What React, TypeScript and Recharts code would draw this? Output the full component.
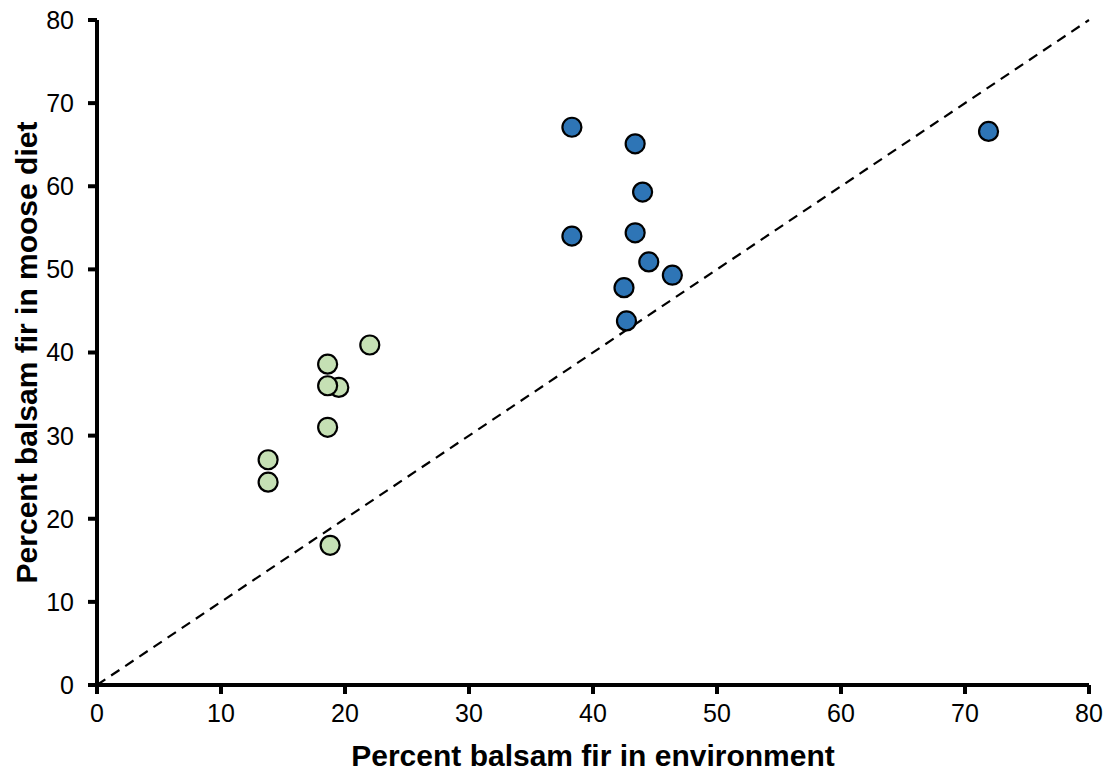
import React from "react";
import { ScatterChart, Scatter, XAxis, YAxis, ReferenceLine, Label } from "recharts";

// values: [environment %, diet %]
const blueEnv = [38.3, 43.4, 44.0, 38.3, 43.4, 44.5, 46.4, 42.5, 42.7, 71.9];
const blueDiet = [67.1, 65.1, 59.3, 54.0, 54.4, 50.9, 49.3, 47.8, 43.8, 66.6];
const greenEnv = [22.0, 18.6, 19.5, 18.6, 18.6, 13.8, 13.8, 18.8];
const greenDiet = [40.9, 38.6, 35.8, 36.0, 31.0, 27.1, 24.4, 16.8];
const ticks = [0, 10, 20, 30, 40, 50, 60, 70, 80];

const blueData = blueEnv.map((x, i) => ({ x, y: blueDiet[i] }));
const greenData = greenEnv.map((x, i) => ({ x, y: greenDiet[i] }));

const font = "Liberation Sans, Arial, sans-serif";
const axisStyle = { stroke: "#000", strokeWidth: 4 };

const dot = (fill: string) => (props: any) => (
  <circle cx={props.cx} cy={props.cy} r={9.5} fill={fill} stroke="#000" strokeWidth={2.2} />
);

export default function App() {
  return (
    <div style={{ position: "absolute", left: 0, top: 0, background: "#fff" }}>
      <ScatterChart width={1109} height={772} margin={{ top: 20, right: 20, bottom: 0, left: 0 }}>
        <XAxis
          type="number"
          dataKey="x"
          domain={[0, 80]}
          ticks={ticks}
          height={87}
          stroke="#000"
          strokeWidth={4}
          axisLine={axisStyle}
          tickLine={axisStyle}
          tickSize={9}
          tickMargin={10}
          tick={{ fill: "#000", fontSize: 25, fontFamily: font, strokeWidth: 0 }}
        >
          <Label
            value="Percent balsam fir in environment"
            position="insideBottom"
            offset={6}
            style={{ fill: "#000", fontSize: 30, fontWeight: "bold", fontFamily: font }}
          />
        </XAxis>
        <YAxis
          type="number"
          dataKey="y"
          domain={[0, 80]}
          ticks={ticks}
          width={97}
          stroke="#000"
          strokeWidth={4}
          axisLine={axisStyle}
          tickLine={axisStyle}
          tickSize={9}
          tickMargin={14}
          tick={{ fill: "#000", fontSize: 25, fontFamily: font, strokeWidth: 0 }}
        >
          <Label
            value="Percent balsam fir in moose diet"
            angle={-90}
            position="insideLeft"
            offset={26}
            style={{ textAnchor: "middle", fill: "#000", fontSize: 30, fontWeight: "bold", fontFamily: font }}
          />
        </YAxis>
        <ReferenceLine
          segment={[{ x: 0, y: 0 }, { x: 80, y: 80 }]}
          stroke="#000"
          strokeWidth={2.2}
          strokeDasharray="10 7"
          ifOverflow="visible"
        />
        <Scatter data={greenData} shape={dot("#C5E0B4")} isAnimationActive={false} />
        <Scatter data={blueData} shape={dot("#2E75B6")} isAnimationActive={false} />
      </ScatterChart>
    </div>
  );
}
